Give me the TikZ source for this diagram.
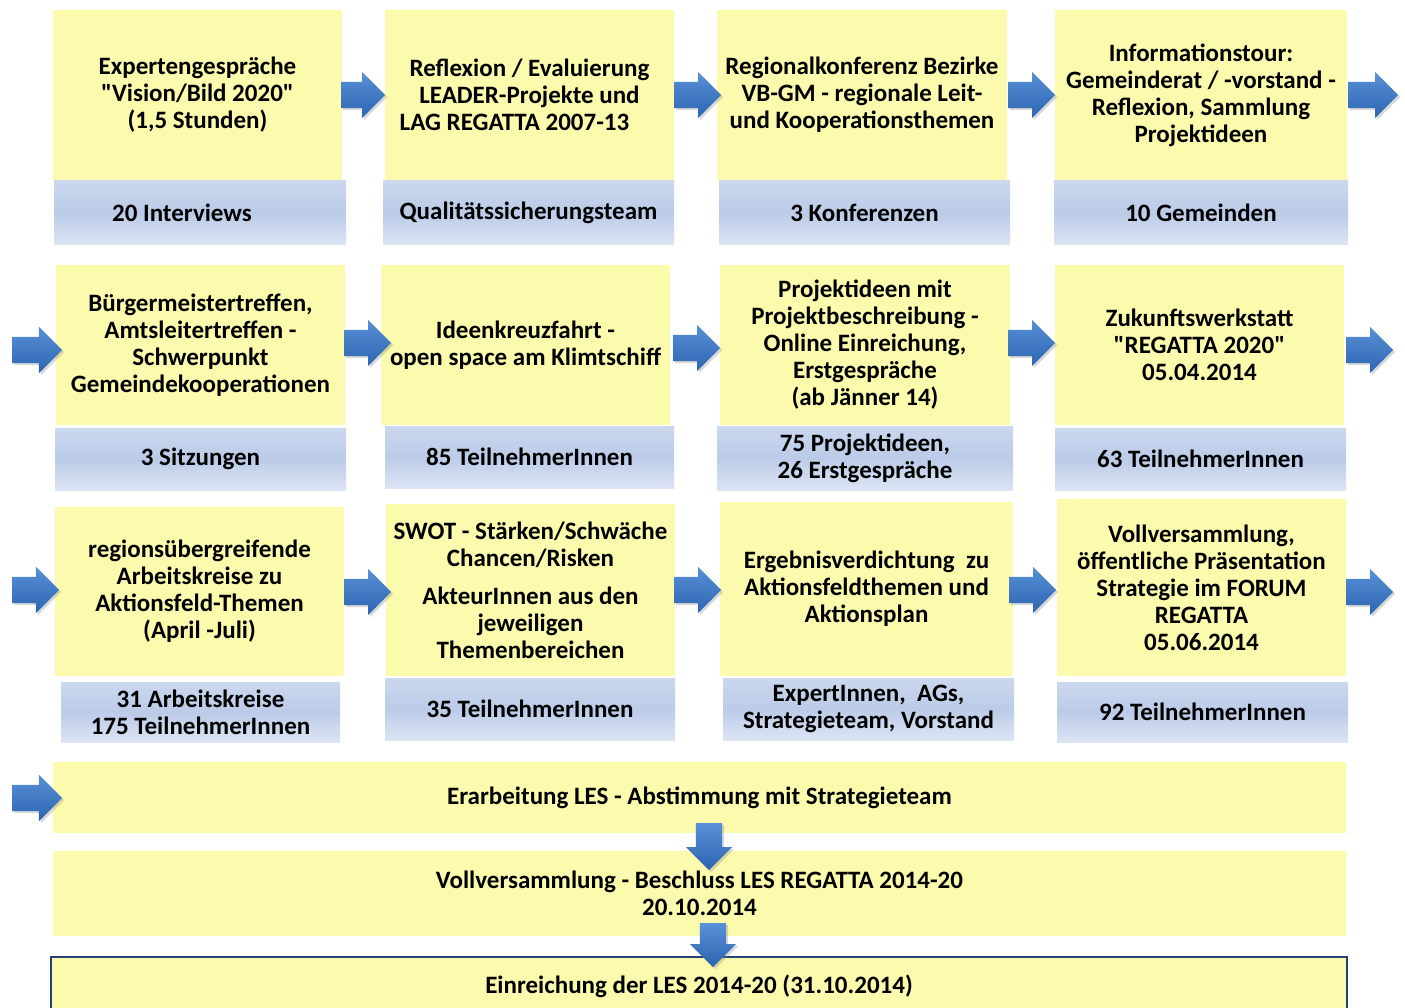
\documentclass[tikz,border=0pt]{standalone}
\usepackage{fontspec}
\setmainfont{Carlito}[Ligatures=TeXOff]
\usetikzlibrary{shapes.arrows,shadows,calc}
\definecolor{ylw}{RGB}{252,250,172}
\definecolor{bluT}{RGB}{203,216,238}
\definecolor{bluM}{RGB}{187,203,232}
\definecolor{bluB}{RGB}{220,229,244}
\definecolor{arrT}{RGB}{88,145,215}
\definecolor{arrB}{RGB}{44,100,176}
\definecolor{frameblue}{RGB}{38,64,120}
\tikzset{
  txt/.style={font=\fontsize{25pt}{27pt}\selectfont\bfseries, align=center, text=black, inner sep=0pt},
  ybox/.style={txt, fill=ylw, draw=none},
  bbox/.style={txt, draw=none, top color=bluT, bottom color=bluB, middle color=bluM},
  rarr/.style={single arrow, anchor=tail, draw=none, minimum height=47pt, minimum width=46pt,
    single arrow head extend=10pt, inner xsep=0pt, inner ysep=13pt, top color=arrT, bottom color=arrB,
    drop shadow={opacity=0.3, shadow xshift=2pt, shadow yshift=-2pt}},
  darr/.style={rarr, rotate=-90}
}
\begin{document}
\begin{tikzpicture}[x=1pt,y=-1pt]
\useasboundingbox (0,0) rectangle (1405,1008);
\clip (0,0) rectangle (1405,1008);
\fill[white] (0,0) rectangle (1405,1008);
% Row 1
\node[ybox, minimum width=289pt, minimum height=170pt] (y11) at (197.5,95) {Expertengespräche\\"Vision/Bild 2020"\\(1,5 Stunden)};
\node[ybox, minimum width=289pt, minimum height=170pt] (y12) at (529.5,95) {Reflexion / Evaluierung\\LEADER-Projekte und\\LAG REGATTA 2007-13\hspace*{30pt}};
\node[ybox, minimum width=290pt, minimum height=170pt] (y13) at (862,95) {Regionalkonferenz Bezirke\\VB-GM - regionale Leit-\\und Kooperationsthemen};
\node[ybox, minimum width=292pt, minimum height=170pt] (y14) at (1201,95) {Informationstour:\\Gemeinderat / -vorstand -\\Reflexion, Sammlung\\Projektideen};
\node[bbox, minimum width=292pt, minimum height=64pt] (b11) at (200,213) {20 Interviews\hspace*{36pt}};
\node[bbox, minimum width=291pt, minimum height=64pt] (b12) at (528.5,213) {Qualitätssicherungsteam};
\node[bbox, minimum width=291pt, minimum height=64pt] (b13) at (864.5,213) {3 Konferenzen};
\node[bbox, minimum width=294pt, minimum height=64pt] (b14) at (1201,213) {10 Gemeinden};
% Row 2
\node[ybox, minimum width=289pt, minimum height=160pt] (y21) at (200.5,345) {Bürgermeistertreffen,\\Amtsleitertreffen -\\Schwerpunkt\\Gemeindekooperationen};
\node[ybox, minimum width=289pt, minimum height=160pt] (y22) at (525.5,345) {Ideenkreuzfahrt -\\open space am Klimtschiff};
\node[ybox, minimum width=290pt, minimum height=160pt] (y23) at (865,345) {Projektideen mit\\Projektbeschreibung -\\Online Einreichung,\\Erstgespräche\\(ab Jänner 14)};
\node[ybox, minimum width=289pt, minimum height=160pt] (y24) at (1199.5,345) {Zukunftswerkstatt\\"REGATTA 2020"\\05.04.2014};
\node[bbox, minimum width=291pt, minimum height=62pt] (b21) at (200.5,459) {3 Sitzungen};
\node[bbox, minimum width=289pt, minimum height=62pt] (b22) at (529.5,457) {85 TeilnehmerInnen};
\node[bbox, minimum width=296pt, minimum height=64pt] (b23) at (865,458) {75 Projektideen,\\26 Erstgespräche};
\node[bbox, minimum width=291pt, minimum height=62pt] (b24) at (1200.5,459) {63 TeilnehmerInnen};
% Row 3
\node[ybox, minimum width=289pt, minimum height=169pt] (y31) at (199.5,591.5) {regionsübergreifende\\Arbeitskreise zu\\Aktionsfeld-Themen\\(April -Juli)};
\node[ybox, minimum width=289pt, minimum height=172pt] (y32) at (530.5,590) {SWOT - Stärken/Schwäche\\Chancen/Risken\\[11pt]AkteurInnen aus den\\jeweiligen\\Themenbereichen};
\node[ybox, minimum width=293pt, minimum height=174pt] (y33) at (866.5,589) {Ergebnisverdichtung\ \ zu\\Aktionsfeldthemen und\\Aktionsplan};
\node[ybox, minimum width=289pt, minimum height=177pt] (y34) at (1201.5,587.5) {Vollversammlung,\\öffentliche Präsentation\\Strategie im FORUM\\REGATTA\\05.06.2014};
\node[bbox, minimum width=279pt, minimum height=60pt] (b31) at (200.5,712) {31 Arbeitskreise\\175 TeilnehmerInnen};
\node[bbox, minimum width=290pt, minimum height=62pt] (b32) at (530,709) {35 TeilnehmerInnen};
\node[bbox, minimum width=291pt, minimum height=62pt] (b33) at (868.5,709) {ExpertInnen,\ \ AGs,\\Strategieteam, Vorstand};
\node[bbox, minimum width=291pt, minimum height=60pt] (b34) at (1202.5,712) {92 TeilnehmerInnen};
% Rows 4-6
\node[ybox, minimum width=1293pt, minimum height=71pt] (r4) at (699.5,797.5) {Erarbeitung LES - Abstimmung mit Strategieteam};
\node[ybox, minimum width=1293pt, minimum height=85pt] (r5) at (699.5,893.5) {Vollversammlung - Beschluss LES REGATTA 2014-20\\20.10.2014};
\node[ybox, draw=frameblue, line width=2pt, minimum width=1296pt, minimum height=64pt] (r6) at (699,989) {};
\node[txt] (r6t) at (699,986) {Einreichung der LES 2014-20 (31.10.2014)};
% Arrows row 1
\node[rarr, minimum height=44pt] (a11) at (341,95) {};
\node[rarr] (a12) at (674,95) {};
\node[rarr] (a13) at (1008,95) {};
\node[rarr, minimum height=50pt] (a14) at (1348,95) {};
% Arrows row 2
\node[rarr, minimum height=50pt] (a20) at (12,350) {};
\node[rarr] (a21) at (344,343) {};
\node[rarr] (a22) at (673,348) {};
\node[rarr] (a23) at (1008,343) {};
\node[rarr] (a24) at (1346,350) {};
% Arrows row 3
\node[rarr] (a30) at (12,590) {};
\node[rarr] (a31) at (344,592) {};
\node[rarr] (a32) at (674,590) {};
\node[rarr] (a33) at (1009,590) {};
\node[rarr] (a34) at (1346,592) {};
% Arrow row 4
\node[rarr, minimum height=50pt] (a40) at (12,798) {};
% Down arrows
\node[darr] (d1) at (709,823) {};
\node[darr, minimum height=44pt] (d2) at (713,923) {};
\end{tikzpicture}
\end{document}
